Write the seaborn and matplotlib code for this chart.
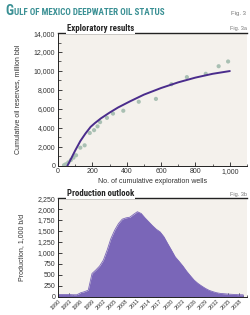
import numpy as np
import pandas as pd
import matplotlib
matplotlib.use("Agg")
import matplotlib.pyplot as plt
from matplotlib.ticker import MultipleLocator, FuncFormatter
from matplotlib import font_manager
import seaborn as sns

# Fig. 3a - exploratory results (wells vs reserves)
wells_obs = [35, 45, 60, 75, 90, 105, 130, 155, 185, 210, 230, 245, 285, 320,
             380, 470, 570, 660, 750, 860, 935, 990]
reserves_obs = [50, 150, 350, 600, 850, 1100, 1900, 2150, 3450, 3750, 4150, 4600,
                5050, 5500, 5800, 6750, 7050, 8600, 9350, 9700, 10500, 11000]
wells_fit = [55, 75, 100, 130, 160, 190, 215, 250, 300, 350, 420, 500, 600,
             700, 800, 900, 1000]
reserves_fit = [0, 700, 1600, 2600, 3400, 4100, 4500, 5000, 5600, 6150, 6800,
                7500, 8200, 8800, 9300, 9700, 9990]

# Fig. 3b - production outlook, 1,000 b/d
years = list(range(1990, 2040))
production = [50, 50, 50, 50, 45, 45, 90, 115, 150, 530, 610, 700, 835, 1065,
              1330, 1520, 1670, 1770, 1800, 1815, 1880, 1940, 1900, 1800, 1710,
              1620, 1540, 1480, 1370, 1215, 1065, 910, 810, 705, 585, 480, 380,
              305, 245, 190, 145, 115, 90, 75, 68, 60, 55, 50, 45, 45]

sns.set_theme(style="ticks")
plt.rcParams['font.family'] = ['Liberation Sans', 'DejaVu Sans']

# condensed face for headings if one is installed
names = {f.name for f in font_manager.fontManager.ttflist}
cond_stretch = {"stretch": "condensed"}
if "Liberation Sans Narrow" in names:
    cond = ['Liberation Sans Narrow', 'DejaVu Sans']
elif "Roboto Condensed" in names:
    cond = ['Roboto Condensed', 'DejaVu Sans']
else:
    cond = ['DejaVu Sans']

bg = "#f4f1ec"
ink = "#333333"
thousands = FuncFormatter(lambda v, p: f"{int(v):,}")

fig = plt.figure(figsize=(2.5, 3.15), dpi=100)
fig.patch.set_facecolor("white")

# header
fig.text(0.02, 0.965, "G", fontsize=10, fontweight="bold", color="#3a9094",
         family=cond, va="center", ha="left", **cond_stretch)
fig.text(0.058, 0.961, "ULF OF MEXICO DEEPWATER OIL STATUS", fontsize=6.5,
         fontweight="bold", color="#3a9094", family=cond, va="center", ha="left",
         **cond_stretch)
fig.text(0.985, 0.958, "Fig. 3", fontsize=4.3, color="#777777", ha="right", va="center")

# ---- top panel
ax1 = fig.add_axes([0.232, 0.474, 0.756, 0.421])
ax1.set_facecolor(bg)
sns.scatterplot(x=wells_obs, y=reserves_obs, ax=ax1, color="#a9c0b3", s=9,
                edgecolor="none", zorder=3)
sns.lineplot(x=wells_fit, y=reserves_fit, ax=ax1, color="#4a2c8c", linewidth=1.4,
             zorder=4)
ax1.set_xlim(0, 1100)
ax1.set_ylim(0, 14000)
ax1.xaxis.set_major_locator(MultipleLocator(200))
ax1.xaxis.set_minor_locator(MultipleLocator(100))
ax1.yaxis.set_major_locator(MultipleLocator(2000))
ax1.yaxis.set_minor_locator(MultipleLocator(1000))
ax1.xaxis.set_major_formatter(thousands)
ax1.yaxis.set_major_formatter(thousands)
ax1.set_xlabel("No. of cumulative exploration wells", fontsize=5.0, color=ink, labelpad=2)
ax1.set_ylabel("Cumulative oil reserves, million bbl", fontsize=5.0, color=ink, labelpad=9)
ax1.text(0.045, 1.0, "Exploratory results", transform=ax1.transAxes, fontsize=6.4,
         fontweight="bold", family=cond, va="bottom", ha="left", **cond_stretch,
         bbox=dict(facecolor="white", edgecolor="none", pad=0.6))
ax1.text(1.0, 1.015, "Fig. 3a", transform=ax1.transAxes, fontsize=4.0,
         color="#777777", ha="right", va="bottom")

# ---- bottom panel
ax2 = fig.add_axes([0.232, 0.058, 0.756, 0.313])
ax2.set_facecolor(bg)
prod = pd.DataFrame({"year": years, "production": production})
sns.lineplot(data=prod, x="year", y="production", ax=ax2, color="#7a66b8",
             linewidth=0.6)
ax2.fill_between(prod["year"], prod["production"], color="#7a66b8", linewidth=0)
ax2.set_xlim(1990, 2040)
ax2.set_ylim(0, 2250)
ax2.set_xticks(range(1990, 2039, 3))
ax2.xaxis.set_minor_locator(MultipleLocator(1))
ax2.yaxis.set_major_locator(MultipleLocator(250))
ax2.yaxis.set_major_formatter(thousands)
ax2.set_xlabel("")
ax2.set_ylabel("Production, 1,000 b/d", fontsize=5.0, color=ink, labelpad=9)
for lab in ax2.get_xticklabels():
    lab.set_rotation(45)
    lab.set_ha("right")
    lab.set_rotation_mode("anchor")
ax2.text(0.045, 1.0, "Production outlook", transform=ax2.transAxes, fontsize=6.4,
         fontweight="bold", family=cond, va="bottom", ha="left", **cond_stretch,
         bbox=dict(facecolor="white", edgecolor="none", pad=0.6))
ax2.text(1.0, 1.015, "Fig. 3b", transform=ax2.transAxes, fontsize=4.0,
         color="#777777", ha="right", va="bottom")

for ax in (ax1, ax2):
    ax.spines["right"].set_visible(False)
    for s in ("top", "left", "bottom"):
        ax.spines[s].set_color("#222222")
        ax.spines[s].set_linewidth(0.7)
    ax.spines["top"].set_linewidth(1.0)
    ax.tick_params(which="major", direction="in", length=3, width=0.6,
                   labelsize=5.0, labelcolor=ink, color="#222222", pad=2)
    ax.tick_params(which="minor", direction="in", length=1.8, width=0.5,
                   color="#222222")
ax2.tick_params(axis="x", which="major", labelsize=4.0, pad=1.0)

fig.savefig("out.png", dpi=100)
